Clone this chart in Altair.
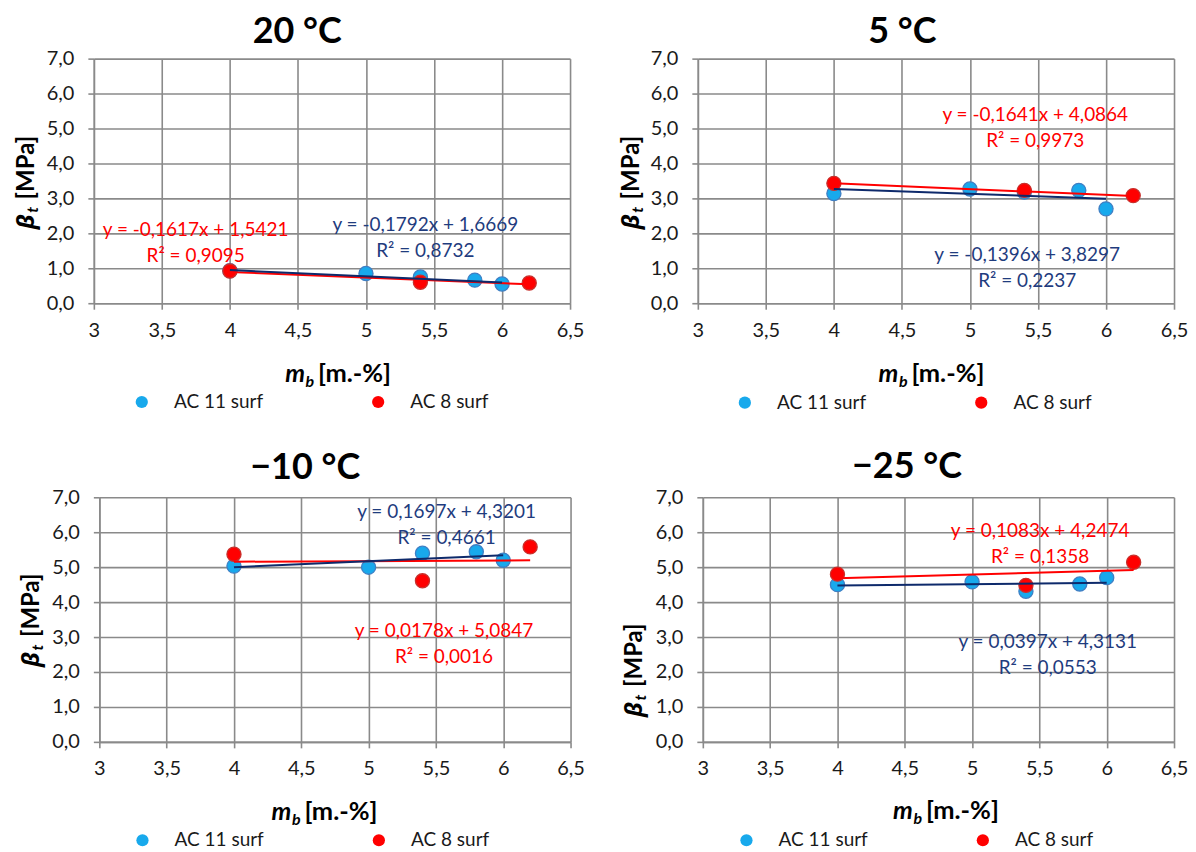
import altair as alt
import pandas as pd

FONT = "Lato"

# ---------------- data ----------------
panel_titles = ["20 °C", "5 °C", "−10 °C", "−25 °C"]
series_names = ["AC 11 surf", "AC 8 surf"]

ac11_x = [4.0, 5.0, 5.4, 5.8, 6.0]
ac8_x = [4.0, 5.4, 6.2]

ac11_y_20 = [0.93, 0.85, 0.75, 0.66, 0.55]
ac8_y_20 = [0.92, 0.60, 0.58]
ac11_y_5 = [3.14, 3.27, 3.18, 3.23, 2.70]
ac8_y_5 = [3.43, 3.23, 3.08]
ac11_y_m10 = [5.03, 5.00, 5.40, 5.44, 5.20]
ac8_y_m10 = [5.37, 4.61, 5.58]
ac11_y_m25 = [4.50, 4.58, 4.31, 4.52, 4.70]
ac8_y_m25 = [4.80, 4.48, 5.14]

ac11_y = [ac11_y_20, ac11_y_5, ac11_y_m10, ac11_y_m25]
ac8_y = [ac8_y_20, ac8_y_5, ac8_y_m10, ac8_y_m25]

# linear trend lines as printed on the chart
ac11_slope = [-0.1792, -0.1396, 0.1697, 0.0397]
ac11_icpt = [1.6669, 3.8297, 4.3201, 4.3131]
ac11_r2 = [0.8732, 0.2237, 0.4661, 0.0553]
ac8_slope = [-0.1617, -0.1641, 0.0178, 0.1083]
ac8_icpt = [1.5421, 4.0864, 5.0847, 4.2474]
ac8_r2 = [0.9095, 0.9973, 0.0016, 0.1358]

x_ticks = [3, 3.5, 4, 4.5, 5, 5.5, 6, 6.5]
y_ticks = [0, 1, 2, 3, 4, 5, 6, 7]

# ---------------- styling / layout ----------------
fill_colors = ["#18A9EC", "#FF0000"]
stroke_colors = ["#3F7FC4", "#C8302C"]
line_colors = ["#0E2A6B", "#FF0000"]
eq_colors = ["#1F3C7E", "#FF0000"]
GRID = "#8a8a8a"

PANEL_W = [477, 477, 472, 472]
PANEL_H = 245
title_pos = [(203.7, -26.5), (204.9, -27), (206.2, -29.2), (204.5, -30)]
xtitle_pos = [(191.6, 324), (181, 323.5), (172.5, 323), (190.5, 322)]
ytitle_pos = [(-60, 171), (-59, 171), (-60, 170), (-61, 220)]
legend_pos = [(49.3, 343.7), (48.4, 344.4), (44.5, 343.3), (45, 343.3)]
# centre of each equation label block in data units: [AC 11, AC 8]
eq_pos = [
    [(5.436, 2.231), (3.748, 2.086)],
    [(5.421, 1.389), (5.480, 5.384)],
    [(5.579, 6.570), (5.560, 3.169)],
    [(5.562, 2.869), (5.505, 6.032)],
]


def fmt(v):
    return f"{v:.4f}".replace(".", ",")


def eq_text(s, b, r2):
    return f"y = {fmt(s)}x + {fmt(b)}\nR² = {fmt(r2)}"


one = pd.DataFrame({"a": [0]})

XSCALE = alt.Scale(domain=[3, 6.5], nice=False, zero=False)
YSCALE = alt.Scale(domain=[0, 7], nice=False)
XAXIS = alt.Axis(values=x_ticks, tickCount=8, title=None, labelFlush=False, labelOverlap=False,
                 labelExpr="replace(format(datum.value, '~g'), '.', ',')")
YAXIS = alt.Axis(values=y_ticks, tickCount=8, title=None, labelFlush=False, labelOverlap=False,
                 labelExpr="replace(format(datum.value, '.1f'), '.', ',')")


def X(f):
    return alt.X(f, scale=XSCALE, axis=XAXIS)


def Y(f):
    return alt.Y(f, scale=YSCALE, axis=YAXIS)


def make_panel(i):
    w = PANEL_W[i]
    pts = pd.DataFrame(
        {"series": [series_names[0]] * len(ac11_x) + [series_names[1]] * len(ac8_x),
         "x": ac11_x + ac8_x,
         "y": ac11_y[i] + ac8_y[i]}
    )
    lx, ly = legend_pos[i]
    points = alt.Chart(pts).mark_circle(size=200, opacity=1, strokeWidth=1.3).encode(
        x=X("x:Q"),
        y=Y("y:Q"),
        fill=alt.Fill("series:N",
                      scale=alt.Scale(domain=series_names, range=fill_colors),
                      legend=alt.Legend(orient="none", legendX=lx - 10.8, legendY=ly - 9.5,
                                        direction="horizontal", title=None,
                                        labelFont=FONT, labelFontSize=19, labelColor="#1a1a1a",
                                        symbolType="circle", symbolSize=150,
                                        symbolStrokeWidth=0, labelOffset=22.7,
                                        columnPadding=104.8, padding=0)),
        stroke=alt.Stroke("series:N",
                          scale=alt.Scale(domain=series_names, range=stroke_colors),
                          legend=None),
    )

    def trend(k):
        xs = ac11_x if k == 0 else ac8_x
        s = ac11_slope[i] if k == 0 else ac8_slope[i]
        b = ac11_icpt[i] if k == 0 else ac8_icpt[i]
        df = pd.DataFrame({"x": [min(xs), max(xs)], "slope": [s, s], "icpt": [b, b]})
        return alt.Chart(df).transform_calculate(
            yy="datum.slope * datum.x + datum.icpt"
        ).mark_line(strokeWidth=2, color=line_colors[k]).encode(
            x=X("x:Q"), y=Y("yy:Q")
        )

    eq_df = pd.DataFrame({
        "x": [eq_pos[i][0][0], eq_pos[i][1][0]],
        "y": [eq_pos[i][0][1], eq_pos[i][1][1]],
        "text": [eq_text(ac11_slope[i], ac11_icpt[i], ac11_r2[i]),
                 eq_text(ac8_slope[i], ac8_icpt[i], ac8_r2[i])],
        "col": eq_colors,
    })
    eqs = alt.Chart(eq_df).mark_text(font=FONT, fontSize=19, lineBreak="\n", lineHeight=26,
                                     align="center", baseline="middle").encode(
        x=X("x:Q"), y=Y("y:Q"),
        text="text:N", color=alt.Color("col:N", scale=None))

    tx, ty = title_pos[i]
    title = alt.Chart(one).mark_text(text=panel_titles[i], font=FONT, fontSize=36,
                                     fontWeight="bold", align="center", baseline="middle",
                                     color="black").encode(x=alt.value(tx), y=alt.value(ty))

    # x-axis title  m_b [m.-%]
    xx, xy = xtitle_pos[i]
    xt1 = alt.Chart(one).mark_text(text="m", font=FONT, fontSize=25, fontWeight="bold",
                                   fontStyle="italic", align="left", baseline="alphabetic",
                                   color="black").encode(x=alt.value(xx), y=alt.value(xy))
    xt2 = alt.Chart(one).mark_text(text="b", font=FONT, fontSize=16, fontWeight="bold",
                                   fontStyle="italic", align="left", baseline="alphabetic",
                                   color="black").encode(x=alt.value(xx + 20.5), y=alt.value(xy + 5))
    xt3 = alt.Chart(one).mark_text(text="[m.-%]", font=FONT, fontSize=25.5, fontWeight="bold",
                                   align="left", baseline="alphabetic",
                                   color="black").encode(x=alt.value(xx + 33), y=alt.value(xy))
    # y-axis title  beta_t [MPa]
    yx, yy = ytitle_pos[i]
    yt1 = alt.Chart(one).mark_text(text="β", font="Open Sans", fontSize=24, fontWeight="bold",
                                   fontStyle="italic", align="left", baseline="alphabetic",
                                   angle=270, color="black").encode(x=alt.value(yx), y=alt.value(yy))
    yt2 = alt.Chart(one).mark_text(text="t", font=FONT, fontSize=16, fontWeight="bold",
                                   fontStyle="italic", align="left", baseline="alphabetic",
                                   angle=270, color="black").encode(x=alt.value(yx + 4), y=alt.value(yy - 16.5))
    yt3 = alt.Chart(one).mark_text(text="[MPa]", font=FONT, fontSize=24, fontWeight="bold",
                                   align="left", baseline="alphabetic",
                                   angle=270, color="black").encode(x=alt.value(yx), y=alt.value(yy - 30))

    layers = [points, trend(1), trend(0), eqs, title, xt1, xt2, xt3, yt1, yt2, yt3]
    if i == 0:
        anchor = alt.Chart(one).mark_point(opacity=0, size=1).encode(
            x=alt.value(-85), y=alt.value(-49.3))
        layers.append(anchor)
    return alt.layer(*layers).properties(width=w, height=PANEL_H)


def indep(c):
    return c.resolve_scale(fill="independent", stroke="independent",
                           x="independent", y="independent").resolve_legend(
        fill="independent", stroke="independent")


p = [make_panel(i) for i in range(4)]
spacer = alt.Chart(one).mark_point(opacity=0, size=1).encode(
    x=alt.value(0), y=alt.value(0)).properties(width=1, height=1)

top = indep(alt.hconcat(p[0], p[1], spacing=128, bounds="flush"))
bottom_inner = indep(alt.hconcat(p[2], p[3], spacing=132.5, bounds="flush"))
bottom = indep(alt.hconcat(spacer, bottom_inner, spacing=4.5, bounds="flush"))
chart = indep(alt.vconcat(top, bottom, spacing=439.4, bounds="flush")).properties(
    padding=0, background="white"
).configure_view(stroke=None).configure_axis(
    grid=True, gridColor=GRID, gridWidth=1.6, domainColor=GRID, domainWidth=1.6,
    tickColor=GRID, tickWidth=1.6, tickSize=6, labelFont=FONT, labelFontSize=20,
    labelColor="#1a1a1a",
).configure_axisX(labelPadding=11).configure_axisY(labelPadding=14)

chart.save("out.html", embed_options={"renderer": "svg", "actions": False})
